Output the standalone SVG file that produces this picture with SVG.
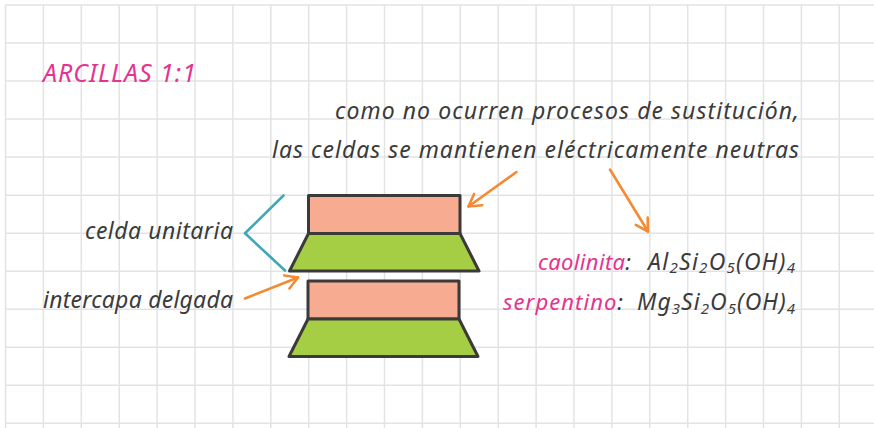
<svg xmlns="http://www.w3.org/2000/svg" width="874" height="428" viewBox="0 0 874 428">
  <style>
    .grid line { stroke: #e3e3e3; stroke-width: 1.5; }
    .txt { font-family: "Noto Sans", "DejaVu Sans", sans-serif; font-style: italic; fill: #3b3b3b; }
    .pink { fill: #e4348f; }
    .sheet { fill: #f7ab91; stroke: #3a3a3a; stroke-width: 3; stroke-linejoin: round; }
    .base { fill: #a6ce44; stroke: #3a3a3a; stroke-width: 3; stroke-linejoin: round; }
    .arrow { fill: none; stroke: #f48a33; stroke-width: 2.6; stroke-linecap: round; }
    .brace { fill: none; stroke: #3fa8b6; stroke-width: 2.6; stroke-linecap: round; stroke-linejoin: round; }
  </style>
  <defs>
    <marker id="head" markerUnits="userSpaceOnUse" markerWidth="20" markerHeight="20" viewBox="-16 -10 20 20" refX="0" refY="0" orient="auto">
      <path d="M-12,-7 L0,0 L-12,7" fill="none" stroke="#f48a33" stroke-width="2.6" stroke-linecap="round" stroke-linejoin="round"/>
    </marker>
  </defs>

  <rect width="874" height="428" fill="#ffffff"/>

  <!-- squared paper -->
  <g class="grid">
    <line x1="5.5" y1="5" x2="5.5" y2="428"/>
    <line x1="43.4" y1="5" x2="43.4" y2="428"/>
    <line x1="81.3" y1="5" x2="81.3" y2="428"/>
    <line x1="119.2" y1="5" x2="119.2" y2="428"/>
    <line x1="157.1" y1="5" x2="157.1" y2="428"/>
    <line x1="195" y1="5" x2="195" y2="428"/>
    <line x1="232.9" y1="5" x2="232.9" y2="428"/>
    <line x1="270.8" y1="5" x2="270.8" y2="428"/>
    <line x1="308.7" y1="5" x2="308.7" y2="428"/>
    <line x1="346.6" y1="5" x2="346.6" y2="428"/>
    <line x1="384.5" y1="5" x2="384.5" y2="428"/>
    <line x1="422.4" y1="5" x2="422.4" y2="428"/>
    <line x1="460.3" y1="5" x2="460.3" y2="428"/>
    <line x1="498.2" y1="5" x2="498.2" y2="428"/>
    <line x1="536.1" y1="5" x2="536.1" y2="428"/>
    <line x1="574" y1="5" x2="574" y2="428"/>
    <line x1="611.9" y1="5" x2="611.9" y2="428"/>
    <line x1="649.8" y1="5" x2="649.8" y2="428"/>
    <line x1="687.7" y1="5" x2="687.7" y2="428"/>
    <line x1="725.6" y1="5" x2="725.6" y2="428"/>
    <line x1="763.5" y1="5" x2="763.5" y2="428"/>
    <line x1="801.4" y1="5" x2="801.4" y2="428"/>
    <line x1="839.3" y1="5" x2="839.3" y2="428"/>
    <line x1="5" y1="5" x2="874" y2="5"/>
    <line x1="5" y1="43" x2="874" y2="43"/>
    <line x1="5" y1="81.1" x2="874" y2="81.1"/>
    <line x1="5" y1="119.1" x2="874" y2="119.1"/>
    <line x1="5" y1="157.1" x2="874" y2="157.1"/>
    <line x1="5" y1="195.2" x2="874" y2="195.2"/>
    <line x1="5" y1="233.2" x2="874" y2="233.2"/>
    <line x1="5" y1="271.2" x2="874" y2="271.2"/>
    <line x1="5" y1="309.2" x2="874" y2="309.2"/>
    <line x1="5" y1="347.3" x2="874" y2="347.3"/>
    <line x1="5" y1="385.3" x2="874" y2="385.3"/>
    <line x1="5" y1="423.3" x2="874" y2="423.3"/>
  </g>

  <!-- title -->
  <text id="title" class="txt pink" x="43" y="81.5" font-size="25" textLength="153">ARCILLAS 1:1</text>

  <!-- note -->
  <g id="note">
    <text class="txt" x="335" y="119" font-size="23" textLength="464">como no ocurren procesos de sustitución,</text>
    <text class="txt" x="272" y="158" font-size="23" textLength="527">las celdas se mantienen eléctricamente neutras</text>
  </g>

  <!-- upper 1:1 layer -->
  <g id="layer-top">
    <rect class="sheet" x="308.5" y="195.5" width="151.5" height="38"/>
    <polygon class="base" points="308.5,233.5 460,233.5 479,271 289.5,271"/>
  </g>

  <!-- lower 1:1 layer -->
  <g id="layer-bottom">
    <rect class="sheet" x="308" y="281" width="151" height="38"/>
    <polygon class="base" points="308,319 459,319 478,356.5 289,356.5"/>
  </g>

  <!-- side labels -->
  <g id="label-celda">
    <text class="txt" x="85" y="239" font-size="23" textLength="148">celda unitaria</text>
  </g>
  <g id="label-intercapa">
    <text class="txt" x="43" y="308" font-size="23" textLength="190">intercapa delgada</text>
  </g>

  <!-- mineral formulas -->
  <g id="caolinita">
    <text class="txt" x="538" y="269.5" font-size="22" textLength="93"><tspan class="pink">caolinita</tspan>:</text>
    <text class="txt" x="648" y="269.5" font-size="23" textLength="147">Al<tspan font-size="15" dy="3.5">2</tspan><tspan dy="-3.5">Si</tspan><tspan font-size="15" dy="3.5">2</tspan><tspan dy="-3.5">O</tspan><tspan font-size="15" dy="3.5">5</tspan><tspan dy="-3.5">(OH)</tspan><tspan font-size="15" dy="3.5">4</tspan></text>
  </g>
  <g id="serpentino">
    <text class="txt" x="503" y="310" font-size="22" textLength="120"><tspan class="pink">serpentino</tspan>:</text>
    <text class="txt" x="637" y="310" font-size="23" textLength="158">Mg<tspan font-size="15" dy="3.5">3</tspan><tspan dy="-3.5">Si</tspan><tspan font-size="15" dy="3.5">2</tspan><tspan dy="-3.5">O</tspan><tspan font-size="15" dy="3.5">5</tspan><tspan dy="-3.5">(OH)</tspan><tspan font-size="15" dy="3.5">4</tspan></text>
  </g>

  <!-- connectors -->
  <g id="connectors">
    <polyline class="brace" points="283.5,195.5 245,233.3 285,270.5"/>
    <line class="arrow" x1="245" y1="298.5" x2="298" y2="277.5" marker-end="url(#head)"/>
    <line class="arrow" x1="516.5" y1="172" x2="468.5" y2="206.5" marker-end="url(#head)"/>
    <line class="arrow" x1="610" y1="169.5" x2="648" y2="231.5" marker-end="url(#head)"/>
  </g>
</svg>
